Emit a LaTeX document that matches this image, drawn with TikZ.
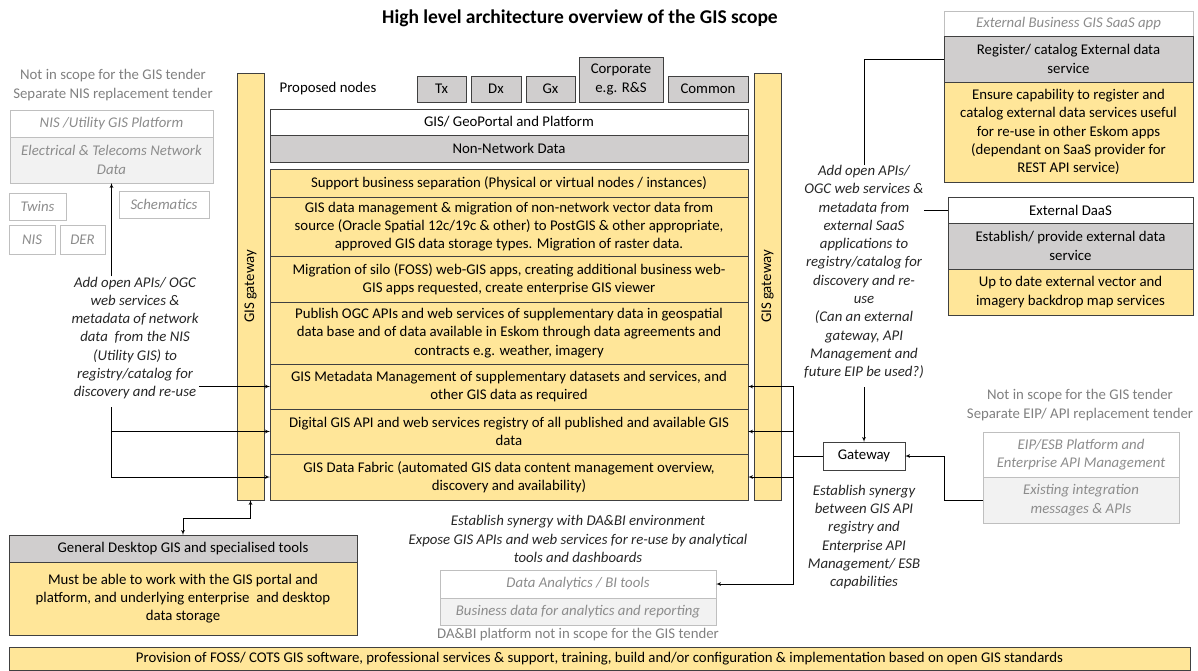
\documentclass[tikz,border=0pt]{standalone}
\usepackage{fontspec}
\setmainfont{Carlito}
\usetikzlibrary{arrows,positioning}

\definecolor{gisyellow}{HTML}{FFE699}
\definecolor{gisgrey}{HTML}{D0CECE}
\definecolor{boxline}{HTML}{404040}
\definecolor{paleline}{HTML}{BFBFBF}
\definecolor{palefill}{HTML}{F2F2F2}
\definecolor{paletext}{HTML}{8C8C8C}
\definecolor{scopetext}{HTML}{808080}

\begin{document}
\fontsize{14.8}{18.3}\selectfont
\begin{tikzpicture}[x=1pt,y=-1pt,>=latex',line width=0.7pt,
                    box/.style={draw=boxline,inner sep=2pt,outer sep=0pt,align=center},
                    yellow box/.style={box,fill=gisyellow},
                    grey box/.style={box,fill=gisgrey},
                    white box/.style={box,fill=white},
                    pale box/.style={draw=paleline,fill=white,inner sep=2pt,outer sep=0pt,
                                     align=center,text=paletext,font=\itshape},
                    pale grey box/.style={pale box,fill=palefill},
                    gate bar/.style={yellow box,minimum width=27,minimum height=427},
                    row/.style={yellow box,minimum width=478},
                    note/.style={font=\itshape,align=center,inner sep=0pt,text=black!85},
                    scope note/.style={align=center,inner sep=0pt,text=scopetext}]
  \useasboundingbox (0,0) rectangle (1198,670);
  \node[font=\fontsize{19.5}{22}\selectfont\bfseries] (title) at (580,18)
    {High level architecture overview of the GIS scope};

  % NIS side (left)
  \node[scope note] (nisscope) at (113,85) {Not in scope for the GIS tender\\Separate NIS replacement tender};
  \node[pale box,minimum width=203,minimum height=27,anchor=north west] (nisplat) at (10,110) {NIS /Utility GIS Platform};
  \node[pale grey box,minimum width=203,minimum height=46,below=0pt of nisplat] (elec) {Electrical \& Telecoms Network\\Data};
  \node[pale box,minimum width=57,minimum height=27,anchor=north west] (twins) at (9,193) {Twins};
  \node[pale box,minimum width=90,minimum height=27,anchor=north west] (schem) at (119,191) {Schematics};
  \node[pale box,minimum width=46,minimum height=29,anchor=north west] (nis) at (9,225) {NIS};
  \node[pale box,minimum width=45,minimum height=29,anchor=north west] (der) at (60,225) {DER};
  \node[note] (nisnote) at (135,338) {Add open APIs/ OGC\\web services \&\\metadata of network\\data~ from the NIS\\(Utility GIS) to\\registry/catalog for\\discovery and re-use};
  \coordinate (lbus) at (111,407);

  % gateways and GIS stack
  \node[gate bar,anchor=north west,label={[rotate=90]center:GIS gateway}] (lgate) at (237,73) {};
  \node[gate bar,anchor=north west,label={[rotate=90]center:GIS gateway}] (rgate) at (754,73) {};
  \node (propnodes) at (328,89) {Proposed nodes};
  \node[grey box,minimum width=49,minimum height=26,anchor=north west] (tx) at (417,76) {Tx};
  \node[grey box,minimum width=50,minimum height=26,right=5pt of tx] (dx) {Dx};
  \node[grey box,minimum width=49,minimum height=26,right=5pt of dx] (gx) {Gx};
  \node[grey box,minimum width=84,minimum height=45,anchor=south west] (corp) at (579,102) {Corporate\\e.g. R\&S};
  \node[grey box,minimum width=80,minimum height=26,anchor=north west] (common) at (668,76) {Common};
  \node[white box,minimum width=478,minimum height=26,anchor=north west] (geo) at (270,109) {GIS/ GeoPortal and Platform};
  \node[grey box,minimum width=478,minimum height=27,below=0pt of geo] (nonnet) {Non-Network Data};

  \node[row,minimum height=28,anchor=north west] (support) at (270,169)
    {Support business separation (Physical or virtual nodes / instances)};
  \node[row,minimum height=59,below=0pt of support] (gisdata)
    {GIS data management \& migration of non-network vector data from\\source (Oracle Spatial 12c/19c \& other) to PostGIS \& other appropriate,\\approved GIS data storage types. Migration of raster data.};
  \node[row,minimum height=46,below=0pt of gisdata] (migr)
    {Migration of silo (FOSS) web-GIS apps, creating additional business web-\\GIS apps requested, create enterprise GIS viewer};
  \node[row,minimum height=62,below=0pt of migr] (publish)
    {Publish OGC APIs and web services of supplementary data in geospatial\\data base and of data available in Eskom through data agreements and\\contracts e.g. weather, imagery};
  \node[row,minimum height=45,below=0pt of publish] (meta)
    {GIS Metadata Management of supplementary datasets and services, and\\other GIS data as required};
  \node[row,minimum height=45,below=0pt of meta] (digital)
    {Digital GIS API and web services registry of all published and available GIS\\data};
  \node[row,minimum height=46,below=0pt of digital] (fabric)
    {GIS Data Fabric (automated GIS data content management overview,\\discovery and availability)};

  % desktop, DA&BI and provision
  \node[grey box,minimum width=348,minimum height=27,anchor=north west] (desk) at (9,535) {General Desktop GIS and specialised tools};
  \node[yellow box,minimum width=348,minimum height=73,below=0pt of desk] (deskreq)
    {Must be able to work with the GIS portal and\\platform, and underlying enterprise~ and desktop\\data storage};
  \coordinate (deskbend) at (183,518);
  \node[note] (dabinote) at (578,539) {Establish synergy with DA\&BI environment\\Expose GIS APIs and web services for re-use by analytical\\tools and dashboards};
  \node[pale box,minimum width=276,minimum height=28,anchor=north west] (dabi) at (440,570) {Data Analytics / BI tools};
  \node[pale grey box,minimum width=276,minimum height=27,below=0pt of dabi] (bizdata) {Business data for analytics and reporting};
  \node[scope note,below=3pt of bizdata] (dabiscope) {DA\&BI platform not in scope for the GIS tender};
  \node[yellow box,minimum width=1181,minimum height=23,anchor=north west] (provision) at (9,647)
    {Provision of FOSS/ COTS GIS software, professional services \& support, training, build and/or configuration \& implementation based on open GIS standards};

  % external side (right)
  \node[pale box,minimum width=249,minimum height=25,anchor=north west] (saas) at (944,11) {External Business GIS SaaS app};
  \node[grey box,minimum width=249,minimum height=46,below=0pt of saas] (register) {Register/ catalog External data\\service};
  \node[yellow box,minimum width=249,minimum height=100,below=0pt of register] (ensure)
    {Ensure capability to register and\\catalog external data services useful\\for re-use in other Eskom apps\\(dependant on SaaS provider for\\REST API service)};
  \node[white box,minimum width=245,minimum height=26,anchor=north west] (daas) at (948,197) {External DaaS};
  \node[grey box,minimum width=245,minimum height=46,below=0pt of daas] (establish) {Establish/ provide external data\\service};
  \node[yellow box,minimum width=245,minimum height=46,below=0pt of establish] (backdrop) {Up to date external vector and\\imagery backdrop map services};
  \node[note] (saasnote) at (864,272) {Add open APIs/\\OGC web services \&\\metadata from\\external SaaS\\applications to\\registry/catalog for\\discovery and re-\\use\\(Can an external\\gateway, API\\Management and\\future EIP be used?)};
  \node[white box,minimum width=82,minimum height=28,anchor=north west] (gateway) at (823,442) {Gateway};
  \node[note] (esbnote) at (864,537) {Establish synergy\\between GIS API\\registry and\\Enterprise API\\Management/ ESB\\capabilities};
  \node[scope note] (eipscope) at (1080,405) {Not in scope for the GIS tender\\Separate EIP/ API replacement tender};
  \node[pale box,minimum width=196,minimum height=45,anchor=north west] (eip) at (983,432) {EIP/ESB Platform and\\Enterprise API Management};
  \node[pale grey box,minimum width=196,minimum height=46,below=0pt of eip] (existing) {Existing integration\\messages \& APIs};
  \coordinate (rbus) at (793,456);

  % connectors
  \draw[->] (elec.south |- nisnote.north) -- (elec.south);
  \draw[->] (nisnote.east |- meta.west) -- (meta.west);
  \draw[->] (lbus) |- (digital.west);
  \draw[->] (lbus) |- (fabric.west);
  \draw[<->] (desk.north) -- (deskbend) -| (lgate.south);
  \draw (register.west) -| (saasnote.north);
  \draw (daas.west) -- (daas.west -| saasnote.east);
  \draw[->,shorten <=8pt] (saasnote.south) -- (gateway.north);
  \draw[->] (existing.west) -- ++(-39,0) |- (gateway.east);
  \draw (gateway.west) -- (rbus);
  \draw[->] (rbus) |- (digital.east);
  \draw[->] (rbus) |- (fabric.east);
  \draw[<->] (meta.east) -- (meta.east -| rbus) |- (dabi.east);
\end{tikzpicture}
\end{document}
